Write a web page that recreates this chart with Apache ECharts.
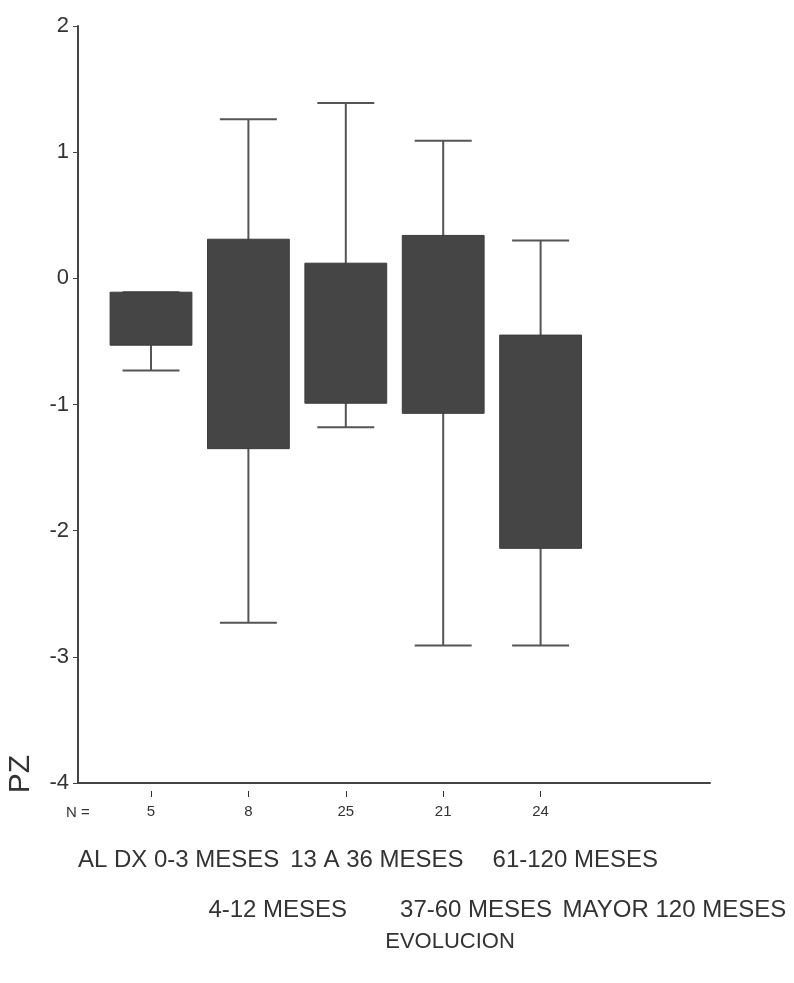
<!DOCTYPE html>
<html>
<head>
<meta charset="utf-8">
<script src="https://cdn.jsdelivr.net/npm/echarts@6/dist/echarts.min.js"></script>
<style>html,body{margin:0;padding:0;background:#fff}#c{width:794px;height:983px}</style>
</head>
<body>
<div id="c"></div>
<script>
// Group labels shown under the axis (two staggered rows)
const categories = ['AL DX 0-3 MESES', '4-12 MESES', '13 A 36 MESES', '37-60 MESES', '61-120 MESES', 'MAYOR 120 MESES'];
// Boxes (one per N)
const nValues = [5, 8, 25, 21, 24];
const whiskerLow = [-0.73, -2.73, -1.18, -2.91, -2.91];
const q1 = [-0.53, -1.35, -0.99, -1.07, -2.14];
const q3 = [-0.11, 0.31, 0.12, 0.34, -0.45];
const whiskerHigh = [-0.11, 1.26, 1.39, 1.09, 0.30];
const yTicks = [-4, -3, -2, -1, 0, 1, 2];

const FONT = "'Liberation Sans', Arial, sans-serif";
const TXT = '#333';

const boxData = nValues.map((n, i) => [i, whiskerLow[i], q1[i], q3[i], whiskerHigh[i]]);

const chart = echarts.init(document.getElementById('c'), null, {renderer: 'canvas'});
const gTop = 26, gBottom = 200;
const yRange = {min: yTicks[0], max: yTicks[yTicks.length - 1], interval: 1};

chart.setOption({
  animation: false,
  backgroundColor: '#fff',
  grid: [
    {left: 78, right: 84, top: gTop, bottom: gBottom},
    {left: 129, width: 595, top: gTop, bottom: gBottom},
    {left: 102.3, width: 487, top: gTop, bottom: gBottom}
  ],
  xAxis: [
    {gridIndex: 0, type: 'value', min: 0, max: 1,
     axisLine: {show: true, onZero: false, lineStyle: {color: '#444', width: 2}},
     axisTick: {show: false}, axisLabel: {show: false}, splitLine: {show: false}},
    {gridIndex: 1, type: 'category', data: categories,
     axisLine: {show: false, onZero: false}, axisTick: {show: false}, splitLine: {show: false},
     axisLabel: {interval: 0, margin: 52, fontSize: 24, lineHeight: 50, color: TXT, fontFamily: FONT,
       formatter: (v, i) => (i % 2 ? '\n' + v : v)}},
    {gridIndex: 2, type: 'category', data: nValues.map(String), offset: 8,
     axisLine: {show: false, onZero: false},
     axisTick: {show: true, alignWithLabel: true, length: 6, lineStyle: {color: '#333', width: 1}},
     axisLabel: {interval: 0, margin: 13, fontSize: 15, color: TXT, fontFamily: FONT},
     splitLine: {show: false}}
  ],
  yAxis: [
    Object.assign({gridIndex: 0, type: 'value',
     axisLine: {show: true, onZero: false, lineStyle: {color: '#444', width: 2}},
     axisTick: {show: true, length: 5, lineStyle: {color: '#444', width: 1}},
     axisLabel: {margin: 9, fontSize: 22, color: TXT, fontFamily: FONT, padding: [0, 0, 14, 0]},
     splitLine: {show: false}}, yRange),
    Object.assign({gridIndex: 1, type: 'value', show: false, splitLine: {show: false}}, yRange),
    Object.assign({gridIndex: 2, type: 'value', show: false, splitLine: {show: false}}, yRange)
  ],
  graphic: [
    {type: 'text', x: 21, y: 774, rotation: Math.PI / 2,
     style: {text: 'PZ', fontSize: 30, fontFamily: FONT, fill: TXT, align: 'center', verticalAlign: 'middle'}},
    {type: 'text', x: 78, y: 813,
     style: {text: 'N =', fontSize: 15, fontFamily: FONT, fill: TXT, align: 'center', verticalAlign: 'middle'}},
    {type: 'text', x: 450, y: 942,
     style: {text: 'EVOLUCION', fontSize: 22, fontFamily: FONT, fill: TXT, align: 'center', verticalAlign: 'middle'}}
  ],
  series: [{
    type: 'custom',
    xAxisIndex: 2, yAxisIndex: 2,
    data: boxData,
    encode: {x: 0, y: [1, 2, 3, 4]},
    renderItem: function (params, api) {
      const idx = api.value(0);
      const lo = api.coord([idx, api.value(1)]);
      const b1 = api.coord([idx, api.value(2)]);
      const b3 = api.coord([idx, api.value(3)]);
      const hi = api.coord([idx, api.value(4)]);
      const band = api.size([1, 0])[0];
      const bw = band * 0.84, cw = band * 0.585;
      const x = lo[0];
      const ls = {stroke: '#555', lineWidth: 2};
      return {type: 'group', children: [
        {type: 'line', shape: {x1: x, y1: hi[1], x2: x, y2: lo[1]}, style: ls},
        {type: 'line', shape: {x1: x - cw / 2, y1: hi[1], x2: x + cw / 2, y2: hi[1]}, style: ls},
        {type: 'line', shape: {x1: x - cw / 2, y1: lo[1], x2: x + cw / 2, y2: lo[1]}, style: ls},
        {type: 'rect', shape: {x: x - bw / 2, y: b3[1], width: bw, height: b1[1] - b3[1]},
         style: {fill: '#454545', stroke: '#3c3c3c', lineWidth: 1}}
      ]};
    }
  }]
});
</script>
</body>
</html>
